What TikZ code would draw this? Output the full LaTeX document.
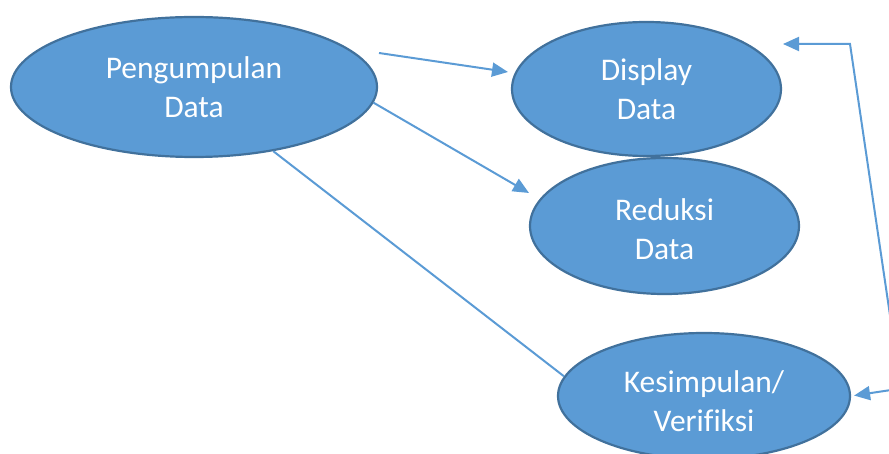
\documentclass[tikz,border=0pt]{standalone}
\usepackage{fontspec}
\setmainfont[Ligatures=NoCommon]{Carlito}
\usepackage{xcolor}
\usetikzlibrary{arrows.meta,positioning,shapes.geometric}
\definecolor{ovalfill}{HTML}{5B9BD5}
\definecolor{ovaledge}{HTML}{41719C}
\definecolor{linkblue}{HTML}{5B9BD5}
\tikzset{
  stageoval/.style={
    draw=ovaledge, fill=ovalfill, line width=2.2pt, ellipse,
    inner sep=0pt
  },
  stagetext/.style={
    text=white, align=center, inner sep=0pt,
    font=\fontsize{31.5}{38.5}\selectfont
  },
  flowline/.style={draw=linkblue, line width=2pt},
  flowarrow/.style={flowline, -{Triangle[length=16pt,width=14pt]}}
}

\begin{document}
\begin{tikzpicture}[x=1pt,y=-1pt]
  \useasboundingbox (0,0) rectangle (889,454);

  % the four stages
  \node[stageoval, minimum width=366pt, minimum height=140pt] (pengumpulan) at (194,87) {};
  \node[stageoval, minimum width=269pt, minimum height=134pt] (display) at (646.5,89) {};
  \node[stageoval, minimum width=269pt, minimum height=136pt] (reduksi) at (664.5,226) {};
  \node[stageoval, minimum width=292pt, minimum height=126pt] (kesimpulan) at (704,396) {};

  \node[stagetext] (pengumpulan-txt) at (pengumpulan.center) {Pengumpulan\\Data};
  \node[stagetext] (display-txt) at (display.center) {Display\\Data};
  \node[stagetext] (reduksi-txt) at ([yshift=-3pt]reduksi.center) {Reduksi\\Data};
  \node[stagetext] (kesimpulan-txt) at ([yshift=-5pt]kesimpulan.center) {Kesimpulan/\\Verifiksi};

  % free ends of the connectors
  \coordinate (kumpul-out) at (379,53);
  \coordinate (display-in) at (508,72);
  \coordinate (reduksi-in) at (529,193);
  \coordinate (loop-bend) at (850,44);
  \coordinate (loop-end) at (783,44);
  \coordinate (loop-start) at (891,322);
  \coordinate (verif-tail) at (891,390);

  \draw[flowarrow] (kumpul-out) -- (display-in);
  \draw[flowarrow] (pengumpulan.-5) -- (reduksi-in);
  \draw[flowline] (pengumpulan.-39) -- (kesimpulan.172);
  \draw[flowarrow] (loop-start) -- (loop-bend) -- (loop-end);
  \draw[flowarrow, shorten >=3pt] (verif-tail) -- (kesimpulan.east);
\end{tikzpicture}
\end{document}
